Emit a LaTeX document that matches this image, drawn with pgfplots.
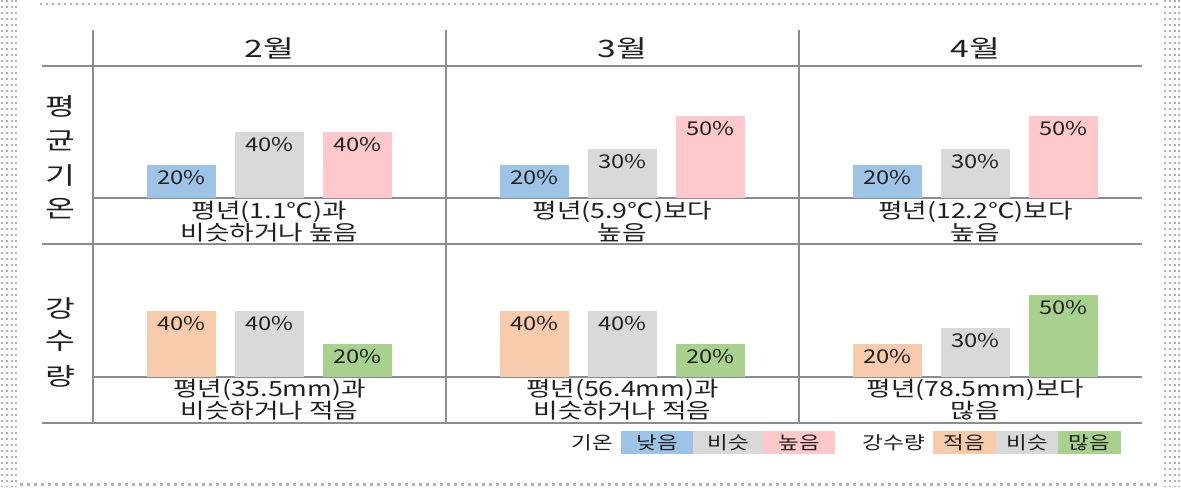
\documentclass[border=0pt]{standalone}
\usepackage{pgfplots}
\pgfplotsset{compat=1.18}
\usepackage{fontspec}
\setmainfont{Noto Sans CJK KR}
\definecolor{cblue}{HTML}{9DC3E6}
\definecolor{cgray}{HTML}{D9D9D9}
\definecolor{cpink}{HTML}{FFC9CC}
\definecolor{corange}{HTML}{F8CBAD}
\definecolor{cgreen}{HTML}{A9D18E}
\definecolor{cline}{HTML}{8C8C8C}
\definecolor{ctext}{HTML}{202020}
\pgfplotsset{
  panel/.style={
    at={#1}, anchor=south west,
    width=176.5pt, height=82.5pt, scale only axis,
    xmin=0, xmax=353, ymin=0, ymax=100,
    hide axis, clip=false,
    ybar, bar width=69, bar shift=0pt,
    /pgf/number format/assume math mode=true,
    nodes near coords={\pgfmathprintnumber{\pgfplotspointmeta}\%},
    every node near coord/.append style={anchor=center, yshift=-6.5pt, xscale=1.25,
      font=\fontsize{9.5}{11}\selectfont, text=ctext, inner sep=0pt},
  },
  bar/.style={draw=none, fill=#1},
}
\begin{document}
\begin{tikzpicture}
\begin{scope}[x=0.5pt,y=-0.5pt]
\path[use as bounding box] (0,0) rectangle (1181,487);
% dotted frame
\draw[gray!60, dotted, line width=1pt] (40,4) -- (1160,4);
\draw[gray!60, dotted, line width=1.5pt] (20,484) -- (1160,484);
\foreach \xx in {2,7,12,16} {\draw[gray!60, dotted, line width=1pt] (\xx,0) -- (\xx,487);}
\foreach \xx in {1165,1170,1175,1179} {\draw[gray!60, dotted, line width=1pt] (\xx,0) -- (\xx,487);}
% grid
\draw[cline, line width=1.2pt] (42,66) -- (1142,66);
\draw[cline, line width=1.2pt] (93,198) -- (1142,198);
\draw[cline, line width=1.2pt] (42,244) -- (1142,244);
\draw[cline, line width=1.2pt] (93,377) -- (1142,377);
\draw[cline, line width=1.2pt] (42,423) -- (1142,423);
\foreach \xx in {93,446,799} {\draw[cline, line width=1.2pt] (\xx,30) -- (\xx,423);}
% headers
\begin{scope}[every node/.style={text=ctext, xscale=1.4, font=\fontsize{12}{14}\selectfont}]
\node at (269.5,48) {2월};
\node at (622.5,48) {3월};
\node at (975.5,48) {4월};
\end{scope}
\begin{scope}[every node/.style={text=ctext, xscale=1.35, font=\fontsize{12}{14}\selectfont}]
\node at (60,106) {평};
\node at (60,141) {균};
\node at (60,176) {기};
\node at (60,209) {온};
\node at (60,308) {강};
\node at (60,341) {수};
\node at (60,376) {량};
\end{scope}
% captions
\begin{scope}[every node/.style={text=ctext, align=center, inner sep=0pt, xscale=1.27, font=\fontsize{10.5}{11}\selectfont}]
\node at (269.5,222) {평년(1.1℃)과\\비슷하거나 높음};
\node at (622.5,222) {평년(5.9℃)보다\\높음};
\node at (975.5,222) {평년(12.2℃)보다\\높음};
\node at (269.5,400) {평년(35.5mm)과\\비슷하거나 적음};
\node at (622.5,400) {평년(56.4mm)과\\비슷하거나 적음};
\node at (975.5,400) {평년(78.5mm)보다\\많음};
\end{scope}
% legend
\begin{scope}[every node/.style={text=ctext, xscale=1.25, font=\fontsize{9}{10}\selectfont}]
\fill[cblue] (621,431) rectangle (693,454);
\fill[cgray] (693,431) rectangle (763,454);
\fill[cpink] (763,431) rectangle (835,454);
\fill[corange] (933,431) rectangle (996,454);
\fill[cgray] (996,431) rectangle (1058,454);
\fill[cgreen] (1058,431) rectangle (1121,454);
\node at (592,442.5) {기온};
\node at (657,442.5) {낮음};
\node at (728,442.5) {비슷};
\node at (799,442.5) {높음};
\node at (894,442.5) {강수량};
\node at (964.5,442.5) {적음};
\node at (1027,442.5) {비슷};
\node at (1089.5,442.5) {많음};
\end{scope}
\end{scope}
% panels: temperature row
\begin{axis}[panel={(46.5pt,-99pt)}]
\addplot[bar=cblue] coordinates {(88.5,20)};
\addplot[bar=cgray] coordinates {(176.5,40)};
\addplot[bar=cpink] coordinates {(264.5,40)};
\end{axis}
\begin{axis}[panel={(223pt,-99pt)}]
\addplot[bar=cblue] coordinates {(88.5,20)};
\addplot[bar=cgray] coordinates {(176.5,30)};
\addplot[bar=cpink] coordinates {(264.5,50)};
\end{axis}
\begin{axis}[panel={(399.5pt,-99pt)}]
\addplot[bar=cblue] coordinates {(88.5,20)};
\addplot[bar=cgray] coordinates {(176.5,30)};
\addplot[bar=cpink] coordinates {(264.5,50)};
\end{axis}
% panels: precipitation row
\begin{axis}[panel={(46.5pt,-188.5pt)}]
\addplot[bar=corange] coordinates {(88.5,40)};
\addplot[bar=cgray] coordinates {(176.5,40)};
\addplot[bar=cgreen] coordinates {(264.5,20)};
\end{axis}
\begin{axis}[panel={(223pt,-188.5pt)}]
\addplot[bar=corange] coordinates {(88.5,40)};
\addplot[bar=cgray] coordinates {(176.5,40)};
\addplot[bar=cgreen] coordinates {(264.5,20)};
\end{axis}
\begin{axis}[panel={(399.5pt,-188.5pt)}]
\addplot[bar=corange] coordinates {(88.5,20)};
\addplot[bar=cgray] coordinates {(176.5,30)};
\addplot[bar=cgreen] coordinates {(264.5,50)};
\end{axis}
\end{tikzpicture}
\end{document}
